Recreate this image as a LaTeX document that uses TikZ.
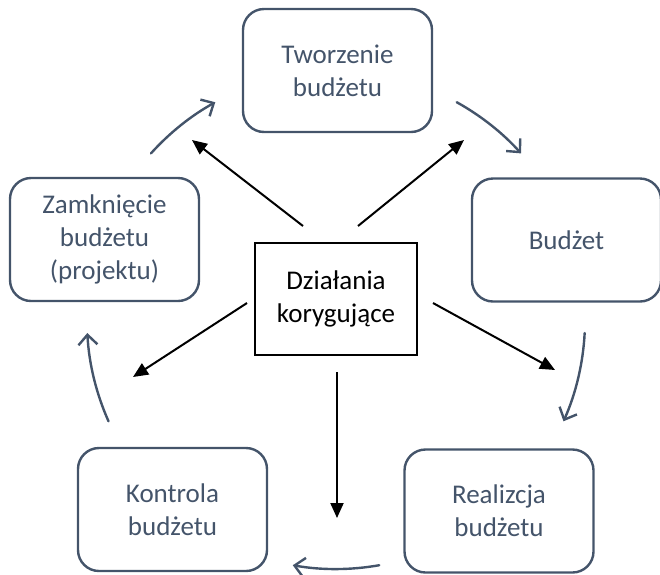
\documentclass[tikz,border=0pt]{standalone}
\usepackage{fontspec}
\setmainfont{Carlito}
\usepackage{xcolor}
\usepackage{tikz}
\usetikzlibrary{arrows.meta}
\definecolor{slate}{HTML}{44546A}

\begin{document}
\begin{tikzpicture}[x=1pt, y=-1pt,
  cycbox/.style={draw=slate, line width=2.4pt, rounded corners=21pt, text=slate, align=center, minimum width=189pt, minimum height=123pt, inner sep=0pt, font=\fontsize{27}{33}\selectfont},
  corrbox/.style={draw=black, line width=1.4pt, align=center, minimum width=162pt, minimum height=112pt, inner sep=0pt, font=\fontsize{27}{33}\selectfont},
  cycarrow/.style={draw=slate, line width=2.4pt, line cap=round, -{Straight Barb[length=10pt, width=19pt, line width=2.4pt]}},
  corrarrow/.style={draw=black, line width=2pt, -{Triangle[length=15pt, width=13pt]}}]
  \useasboundingbox (0,0) rectangle (660,574);
  \node [cycbox] (tworz) at (337.5, 70.5) {Tworzenie\\budżetu};
  \node [cycbox] (budzet) at (566.5, 240) {Budżet};
  \node [cycbox] (realiz) at (499, 511) {Realizcja\\budżetu};
  \node [cycbox] (kontr) at (172.5, 509.5) {Kontrola\\budżetu};
  \node [cycbox] (zamk) at (104.5, 239.5) {Zamknięcie\\budżetu\\(projektu)};
  \node [corrbox] (korekta) at (336, 299) {Działania\\korygujące};
  \coordinate (cyc) at (336, 320);
  \draw [cycarrow] ([shift={(-138:249)}]cyc) arc [start angle=-138, end angle=-119, radius=249];
  \draw [cycarrow] ([shift={(-61:249)}]cyc) arc [start angle=-61, end angle=-42, radius=249];
  \draw [cycarrow] ([shift={(3:249)}]cyc) arc [start angle=3, end angle=24, radius=249];
  \draw [cycarrow] ([shift={(80:249)}]cyc) arc [start angle=80, end angle=100, radius=249];
  \draw [cycarrow] ([shift={(156:249)}]cyc) arc [start angle=156, end angle=177, radius=249];
  \coordinate (k1) at (303, 226);
  \coordinate (k2) at (358, 226);
  \coordinate (k3) at (433, 303);
  \coordinate (k4) at (337, 372);
  \coordinate (k5) at (247, 303);
  \coordinate (c1) at (192, 140);
  \coordinate (c2) at (464, 140);
  \coordinate (c3) at (555, 370);
  \coordinate (c4) at (337, 518);
  \coordinate (c5) at (133, 377);
  \draw [corrarrow] (k1) -- (c1);
  \draw [corrarrow] (k2) -- (c2);
  \draw [corrarrow] (k3) -- (c3);
  \draw [corrarrow] (k4) -- (c4);
  \draw [corrarrow] (k5) -- (c5);
\end{tikzpicture}
\end{document}
